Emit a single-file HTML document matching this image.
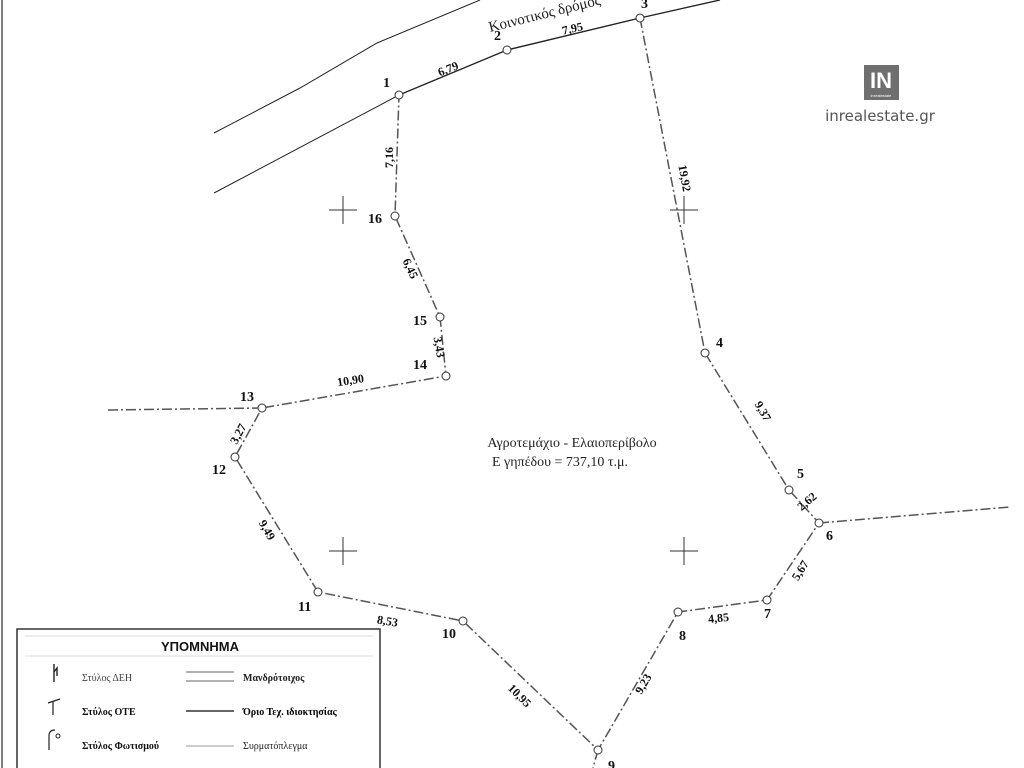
<!DOCTYPE html>
<html><head><meta charset="utf-8"><style>
html,body{margin:0;padding:0;background:#fff;}
svg{display:block;}
.n{font-family:"Liberation Serif",serif;font-weight:bold;font-size:14px;fill:#111;}
.d{font-family:"Liberation Serif",serif;font-weight:bold;font-size:12px;fill:#111;}
</style></head><body>
<svg width="1024" height="768" viewBox="0 0 1024 768" xmlns="http://www.w3.org/2000/svg">
<rect width="1024" height="768" fill="#fff"/>
<line x1="2" y1="0" x2="2" y2="768" stroke="#555" stroke-width="1.5"/>
<polyline points="214,133 300,88 377,43 480,0" fill="none" stroke="#222" stroke-width="1"/>
<polyline points="214,193 399,95" fill="none" stroke="#222" stroke-width="1"/>
<polyline points="399,95 507,50 640,18 720,0" fill="none" stroke="#222" stroke-width="1.4"/>
<text x="490" y="32" transform="rotate(-14 490 32)" font-family="Liberation Serif,serif" font-size="15" fill="#222">Κοινοτικός δρόμος</text>
<g fill="none" stroke="#555" stroke-width="1.5" stroke-dasharray="10,3,2,3">
<polyline points="640,18 705,353 789,490 819,523 767,600 678,612 598,750 463,621 318,592 235,457 262,408 446,376 440,317 395,216 399,95"/>
<line x1="262" y1="408" x2="105" y2="410"/>
<line x1="819" y1="523" x2="1010" y2="507"/>
<line x1="598" y1="750" x2="593" y2="768"/>
</g>
<g fill="#fff" stroke="#333" stroke-width="1">
<circle cx="399" cy="95" r="4"/><circle cx="507" cy="50" r="4"/><circle cx="640" cy="18" r="4"/>
<circle cx="705" cy="353" r="4"/><circle cx="789" cy="490" r="4"/><circle cx="819" cy="523" r="4"/>
<circle cx="767" cy="600" r="4"/><circle cx="678" cy="612" r="4"/><circle cx="598" cy="750" r="4"/>
<circle cx="463" cy="621" r="4"/><circle cx="318" cy="592" r="4"/><circle cx="235" cy="457" r="4"/>
<circle cx="262" cy="408" r="4"/><circle cx="446" cy="376" r="4"/><circle cx="440" cy="317" r="4"/>
<circle cx="395" cy="216" r="4"/>
</g>
<g stroke="#333" stroke-width="1">
<path d="M329,210h28M343,196v28M670,210h28M684,196v28M329,551h28M343,537v28M670,551h28M684,537v28"/>
</g>
<text class="n" x="383" y="87">1</text><text class="n" x="494" y="40">2</text><text class="n" x="641" y="8">3</text>
<text class="n" x="716" y="347">4</text><text class="n" x="797" y="478">5</text><text class="n" x="826" y="540">6</text>
<text class="n" x="764" y="618">7</text><text class="n" x="679" y="640">8</text><text class="n" x="608" y="770">9</text>
<text class="n" x="442" y="638">10</text><text class="n" x="298" y="611">11</text><text class="n" x="212" y="474">12</text>
<text class="n" x="240" y="401">13</text><text class="n" x="413" y="369">14</text><text class="n" x="413" y="325">15</text>
<text class="n" x="368" y="223">16</text>
<text class="d" x="437" y="72" transform="rotate(-22 450 67)">6,79</text>
<text class="d" x="562" y="33" transform="rotate(-13 570 29)">7,95</text>
<text class="d" x="380" y="165" transform="rotate(-90 388 160)">7,16</text>
<text class="d" x="668" y="182" transform="rotate(80 683 180)">19,92</text>
<text class="d" x="752" y="412" transform="rotate(60 760 410)">9,37</text>
<text class="d" x="797" y="507" transform="rotate(-40 805 503)">2,62</text>
<text class="d" x="790" y="577" transform="rotate(-58 798 572)">5,67</text>
<text class="d" x="708" y="622" transform="rotate(-6 718 618)">4,85</text>
<text class="d" x="634" y="690" transform="rotate(-60 642 686)">9,23</text>
<text class="d" x="506" y="700" transform="rotate(45 520 696)">10,95</text>
<text class="d" x="377" y="625" transform="rotate(10 387 621)">8,53</text>
<text class="d" x="256" y="533" transform="rotate(60 266 530)">9,49</text>
<text class="d" x="226" y="437" transform="rotate(-62 238 432)">3,27</text>
<text class="d" x="337" y="384" transform="rotate(-9 352 380)">10,90</text>
<text class="d" x="399" y="270" transform="rotate(65 408 268)">6,45</text>
<text class="d" x="428" y="348" transform="rotate(80 437 346)">3,43</text>
<text x="572" y="447" text-anchor="middle" font-family="Liberation Serif,serif" font-size="14" fill="#222">Αγροτεμάχιο - Ελαιοπερίβολο</text>
<text x="560" y="466" text-anchor="middle" font-family="Liberation Serif,serif" font-size="14" fill="#222">Ε γηπέδου = 737,10 τ.μ.</text>
<rect x="864" y="65" width="35" height="35" fill="#6f6f6f"/>
<text x="881" y="88" text-anchor="middle" font-family="Liberation Sans,sans-serif" font-weight="bold" font-size="22" fill="#fff">IN</text>
<text x="881" y="97" text-anchor="middle" font-family="Liberation Sans,sans-serif" font-size="4" fill="#fff">inrealestate</text>
<text x="880" y="121" text-anchor="middle" font-family="DejaVu Sans,sans-serif" font-size="15" fill="#555">inrealestate.gr</text>
<rect x="17" y="629" width="363" height="150" fill="#fff" stroke="#333" stroke-width="1.5"/>
<line x1="25" y1="636" x2="373" y2="636" stroke="#ddd"/>
<line x1="25" y1="656" x2="373" y2="656" stroke="#ddd"/>
<text x="200" y="651" text-anchor="middle" font-family="Liberation Sans,sans-serif" font-weight="bold" font-size="13" fill="#111">ΥΠΟΜΝΗΜΑ</text>
<path d="M54,664v18M54,672l3,-4v8" stroke="#222" stroke-width="1.4" fill="none"/>
<path d="M53,715v-14M48,703l12,-4" stroke="#222" stroke-width="1.2" fill="none"/>
<path d="M49,750v-14q0,-6 6,-6" stroke="#222" stroke-width="1.2" fill="none"/>
<circle cx="58" cy="736" r="2" fill="none" stroke="#222"/>
<text x="82" y="681" font-family="Liberation Serif,serif" font-size="10" fill="#444">Στύλος ΔΕΗ</text>
<text x="82" y="715" font-family="Liberation Serif,serif" font-weight="bold" font-size="10" fill="#111">Στύλος ΟΤΕ</text>
<text x="82" y="749" font-family="Liberation Serif,serif" font-weight="bold" font-size="10" fill="#111">Στύλος Φωτισμού</text>
<path d="M186,672h48M186,681h48" stroke="#666" stroke-width="1"/>
<line x1="186" y1="711" x2="234" y2="711" stroke="#333" stroke-width="1.5"/>
<line x1="186" y1="746" x2="234" y2="746" stroke="#999" stroke-width="1"/>
<text x="243" y="681" font-family="Liberation Serif,serif" font-weight="bold" font-size="10" fill="#222">Μανδρότοιχος</text>
<text x="243" y="715" font-family="Liberation Serif,serif" font-weight="bold" font-size="10" fill="#000">Όριο Τεχ. ιδιοκτησίας</text>
<text x="243" y="749" font-family="Liberation Serif,serif" font-size="10" fill="#222">Συρματόπλεγμα</text>
</svg>
</body></html>
